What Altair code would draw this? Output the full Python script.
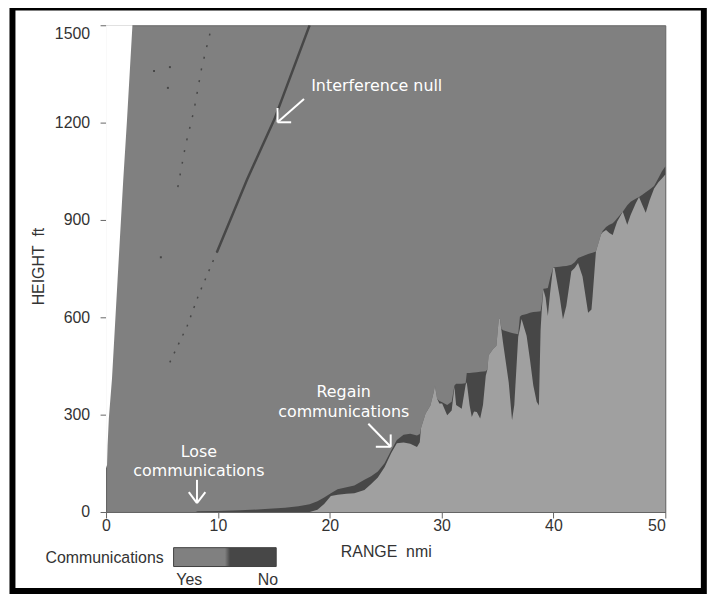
import altair as alt
import pandas as pd

# ---------------- data ----------------
range_nmi = [0.0, 8.0, 8.2, 10.0, 12.0, 14.2, 16.0, 17.2, 18.2, 18.9, 19.5, 20.1, 20.7, 21.5,
             22.2, 23.1, 23.7, 24.3, 24.9, 25.5, 26.0, 26.6, 27.2, 27.8, 28.05, 28.15, 28.56,
             29.0, 29.3, 29.4, 29.6, 29.8, 30.05, 30.5, 30.9, 31.15, 31.3, 31.8, 32.15, 32.25,
             32.5, 32.7, 32.9, 33.15, 33.45, 33.7, 33.95, 34.1, 34.2, 34.6, 34.9, 35.1, 35.2,
             35.35, 35.5, 36.0, 36.3, 36.5, 36.85, 37.0, 37.15, 37.6, 37.9, 38.2, 38.5, 38.7,
             38.85, 38.95, 39.1, 39.3, 39.5, 39.7, 39.96, 40.1, 40.55, 40.85, 41.15, 41.6, 41.9,
             42.2, 42.6, 43.1, 43.4, 43.5, 43.8, 44.25, 44.4, 44.7, 45.0, 45.3, 45.5, 45.7, 46.2,
             46.6, 46.9, 47.35, 47.65, 47.95, 48.25, 48.6, 49.0, 49.4, 49.7, 50.0]
# upper edge of the "No communications" region (ft)
no_comm_top_ft = [0, 0, 2, 3, 5, 9, 13, 18, 24, 33, 45, 58, 70, 76,
                  82, 99, 110, 125, 150, 190, 222, 238, 241, 236, 240, 257, 303,
                  328, 370, 390, 349, 342, 338, 330, 340, 390, 395, 395, 397, 428,
                  428, 429, 430, 431, 432, 433, 434, 440, 482, 502, 512, 590, 599,
                  565, 560, 555, 552, 550, 548, 602, 606, 610, 614, 616, 617, 618,
                  619, 640, 688, 689, 690, 720, 752, 754, 756, 757, 758, 762, 770,
                  783, 788, 795, 798, 799, 803, 855, 866, 878, 885, 890, 897, 905, 925,
                  945, 956, 965, 971, 978, 985, 994, 1005, 1030, 1050, 1065]
# upper edge of the light (masked) region (ft)
terrain_top_ft = [0, 0, 0, 0, 0, 0, 0, 0, 0, 7, 25, 49, 53, 56,
                  58, 68, 86, 106, 138, 182, 212, 214, 210, 200, 215, 257, 303,
                  328, 370, 390, 349, 334, 334, 298, 313, 385, 330, 318, 392, 400,
                  330, 293, 310, 308, 288, 330, 420, 440, 482, 502, 512, 590, 599,
                  560, 520, 400, 283, 330, 540, 565, 595, 543, 470, 390, 340, 328,
                  560, 620, 686, 660, 604, 675, 752, 752, 665, 594, 635, 742, 752,
                  767, 726, 614, 624, 665, 803, 855, 862, 869, 860, 854, 875, 895, 925,
                  885, 915, 951, 971, 946, 922, 961, 997, 1017, 1028, 1040]

# white wedge (outside antenna coverage), lower edge
wedge_range_nmi = [0.0, 0.09, 0.14, 0.25, 0.53, 1.03, 1.54, 1.86, 2.36]
wedge_floor_ft = [135, 145, 206, 288, 410, 716, 1025, 1200, 1500]

# interference nulls
null1_solid_nmi = [9.9, 12.6, 15.05, 18.2]
null1_solid_ft = [800, 1024, 1210, 1500]
null1_dotted_nmi = [5.7, 7.25, 8.29, 9.9]
null1_dotted_ft = [461, 573, 670, 800]
null2_dotted_nmi = [6.42, 7.1, 7.85, 8.55, 9.44]
null2_dotted_ft = [1001, 1129, 1236, 1369, 1496]
speck_nmi = [4.29, 5.71, 5.53, 4.9]
speck_ft = [1359, 1371, 1307, 785]

# annotations
ann_text = ["Interference null", "Lose", "communications", "Regain", "communications"]
ann_x = [24.2, 8.3, 8.3, 21.25, 21.25]
ann_y = [1298, 170, 110, 354, 293]
arrow_x = [17.7, 15.33, 15.33, 8.13, 7.4, 8.88, 23.45, 25.45, 25.45]
arrow_y = [1273, 1201, 1201, 99, 61, 61, 272, 201, 239]
arrow_x2 = [15.33, 16.55, 15.33, 8.13, 8.13, 8.13, 25.45, 24.12, 25.45]
arrow_y2 = [1201, 1201, 1245, 27.5, 27.5, 27.5, 201, 201, 201]

x_ticks = [0, 10, 20, 30, 40, 50]
y_ticks = [0, 300, 600, 900, 1200, 1500]
comm_labels = ["Yes", "No"]
comm_colors = ["#808080", "#474747"]
LIGHT = "#a0a0a0"
AXIS_GRAY = "#666666"
TEXT_GRAY = "#333333"
FONT = "Liberation Sans"

# ---------------- frames ----------------
no_df = pd.DataFrame({"x": range_nmi, "y": no_comm_top_ft,
                      "comm": [comm_labels.index("No")] * len(range_nmi)})
ter_df = pd.DataFrame({"x": range_nmi, "y": terrain_top_ft})
wedge_df = pd.DataFrame({"x": wedge_range_nmi, "y": wedge_floor_ft})
n1s = pd.DataFrame({"x": null1_solid_nmi, "y": null1_solid_ft})
n1d = pd.DataFrame({"x": null1_dotted_nmi, "y": null1_dotted_ft})
n2d = pd.DataFrame({"x": null2_dotted_nmi, "y": null2_dotted_ft})
spk = pd.DataFrame({"x": speck_nmi, "y": speck_ft})
ann_df = pd.DataFrame({"x": ann_x, "y": ann_y, "label": ann_text})
arr_df = pd.DataFrame({"x": arrow_x, "y": arrow_y, "x2": arrow_x2, "y2": arrow_y2})
frame_df = pd.DataFrame({"f": [0]})

xscale = alt.Scale(domain=[x_ticks[0], x_ticks[-1]], nice=False, zero=False)
yscale = alt.Scale(domain=[y_ticks[0], y_ticks[-1]], nice=False, zero=False)

x_axis = alt.Axis(
    values=x_ticks, title="RANGE\u00a0\u00a0nmi", tickSize=6, labelPadding=0, format="d",
    labelAlign={"condition": {"test": f"datum.value == {x_ticks[-1]}", "value": "right"},
                "value": "center"},
    titleX=281.6, titleY=31.5, titleBaseline="top", titleAlign="center",
    labelOverlap=False, grid=False,
)
y_axis = alt.Axis(
    values=y_ticks, title="HEIGHT\u00a0\u00a0ft", tickSize=6, labelPadding=10.5, format="d",
    labelBaseline={"condition": {"test": f"datum.value == {y_ticks[-1]}", "value": "top"},
                   "value": "middle"},
    titleX=-67.5, titleY=242.4, titleBaseline="middle", titleAlign="center", titleAngle=270,
    labelOverlap=False, grid=False,
)


def X():
    return alt.X("x:Q", scale=xscale, axis=x_axis)


def Y():
    return alt.Y("y:Q", scale=yscale, axis=y_axis)


legend = alt.Legend(
    title="Communications", type="gradient", orient="none", legendX=-61, legendY=525.9,
    direction="horizontal", titleOrient="left", titlePadding=9, titleBaseline="middle",
    titleFont=FONT, titleFontSize=16, titleFontWeight="normal", titleColor=TEXT_GRAY,
    gradientLength=103.3, gradientThickness=19, gradientStrokeColor="#404040",
    gradientStrokeWidth=1, values=[0.153, 0.92],
    labelExpr=f"datum.value < 0.5 ? '{comm_labels[0]}' : '{comm_labels[1]}'",
    labelFont=FONT, labelFontSize=16, labelColor=TEXT_GRAY, labelOffset=5.5, labelAlign="center",
    padding=0,
)
color_scale = alt.Scale(type="linear", domain=[0, 0.5, 0.55, 1],
                        range=[comm_colors[0], comm_colors[0], comm_colors[1], comm_colors[1]])

dark = alt.Chart(no_df).mark_area(interpolate="linear").encode(
    x=X(), y=Y(), y2=alt.datum(0),
    color=alt.Color("comm:Q", scale=color_scale, legend=legend),
)
light = alt.Chart(ter_df).mark_area(color=LIGHT, interpolate="linear").encode(
    x=X(), y=Y(), y2=alt.datum(0))
wedge = alt.Chart(wedge_df).mark_area(color="white").encode(
    x=X(), y=Y(), y2=alt.datum(y_ticks[-1]))
null_solid = alt.Chart(n1s).mark_line(color=comm_colors[1], strokeWidth=2.5, clip=True).encode(
    x=X(), y=Y())
null_dot1 = alt.Chart(n1d).mark_line(color=comm_colors[1], strokeWidth=1.5,
                                     strokeDash=[2, 8]).encode(x=X(), y=Y())
null_dot2 = alt.Chart(n2d).mark_line(color=comm_colors[1], strokeWidth=1.5,
                                     strokeDash=[2, 10]).encode(x=X(), y=Y())
specks = alt.Chart(spk).mark_square(size=4, color=comm_colors[1], opacity=1).encode(
    x=X(), y=Y())
arrows = alt.Chart(arr_df).mark_rule(color="white", strokeWidth=2).encode(
    x=X(), y=Y(), x2="x2:Q", y2="y2:Q")
texts = alt.Chart(ann_df).mark_text(font="DejaVu Sans", fontSize=16, color="white",
                                    align="center", baseline="alphabetic").encode(
    x=X(), y=Y(), text="label:N")
frame = alt.Chart(frame_df).mark_rect(stroke="black", strokeWidth=6, fillOpacity=0).encode(
    x=alt.value(-94.2), x2=alt.value(601.8), y=alt.value(-17.9), y2=alt.value(569.6))

chart = alt.layer(
    dark, light, wedge, null_solid, null_dot1, null_dot2, specks, arrows, texts, frame
).properties(
    width=563, height=490,
    padding={"left": 98.7, "top": 15.4, "right": 44, "bottom": 85},
    autosize=alt.AutoSizeParams(type="none"),
    background="white",
).configure_view(
    fill=comm_colors[0], stroke=AXIS_GRAY, strokeWidth=1,
).configure_axis(
    domainColor=AXIS_GRAY, tickColor=AXIS_GRAY, labelColor=TEXT_GRAY, labelFont=FONT,
    labelFontSize=16, titleFont=FONT, titleFontSize=16, titleFontWeight="normal",
    titleColor=TEXT_GRAY,
)

chart.save("out.html", embed_options={"renderer": "svg", "actions": False})
